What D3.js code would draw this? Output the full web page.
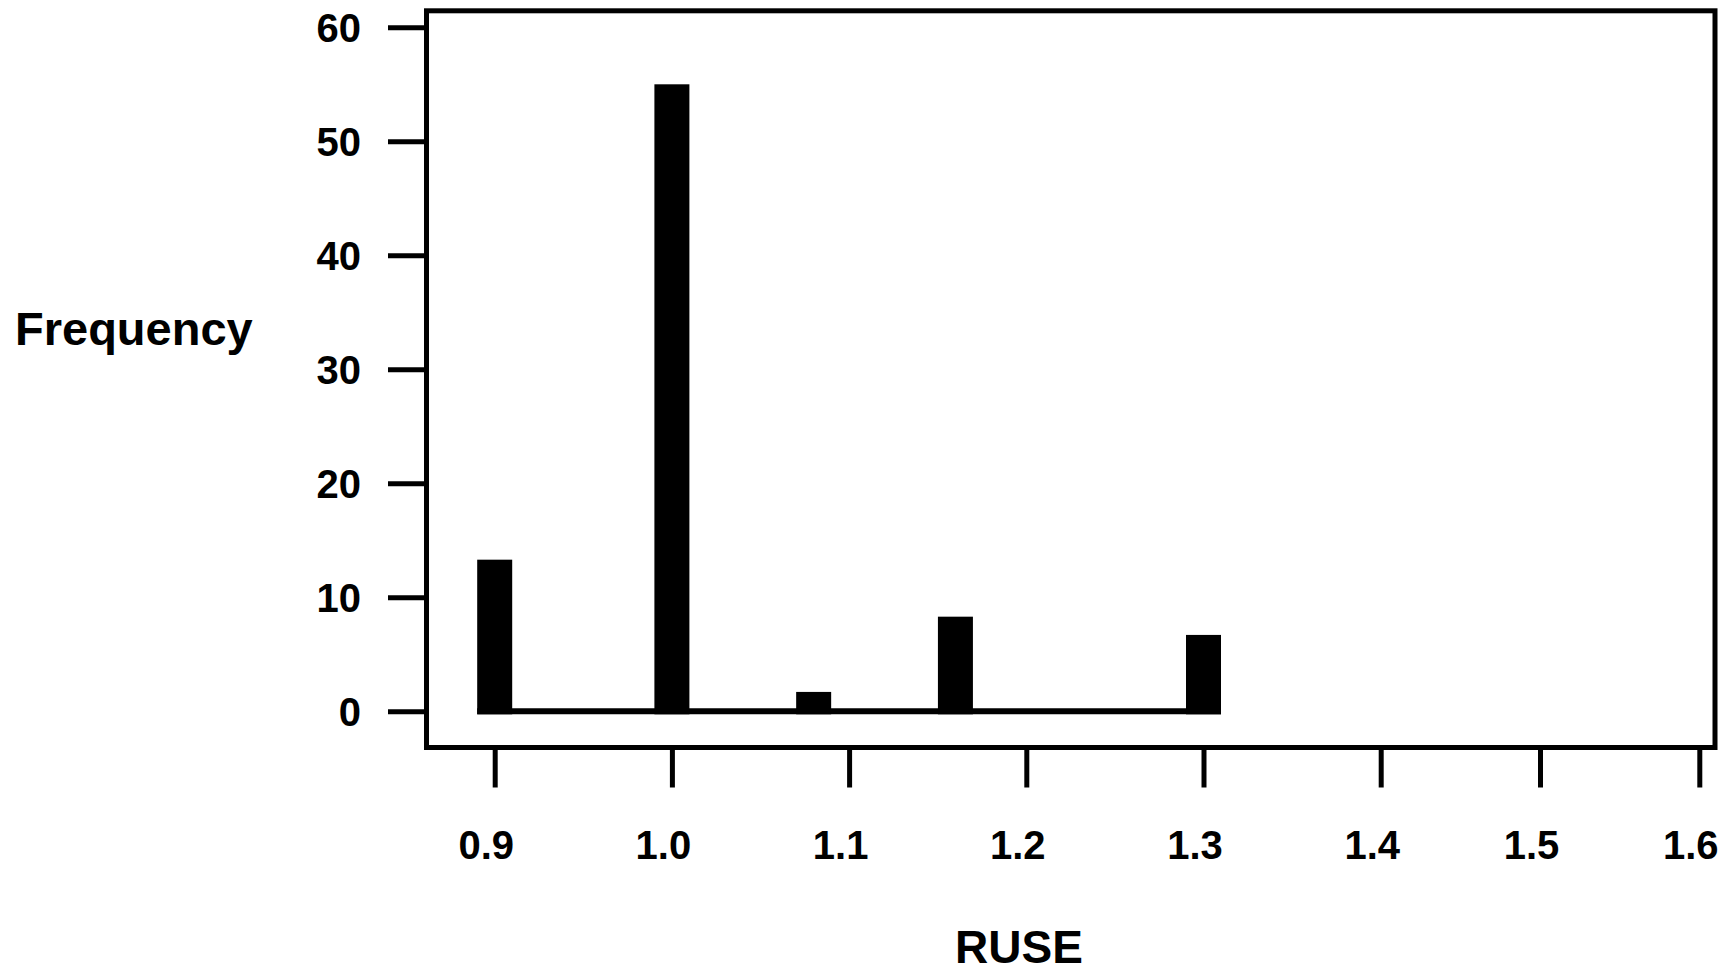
<!DOCTYPE html>
<html>
<head>
<meta charset="utf-8">
<script src="https://cdn.jsdelivr.net/npm/d3@7"></script>
<style>
  html, body { margin: 0; padding: 0; background: #fff; }
  svg text { font-family: "Liberation Sans", Arial, sans-serif; font-weight: bold; fill: #000; }
</style>
</head>
<body>
<svg id="chart" width="1733" height="976"></svg>
<script>
// data
var ruseValues = [0.9, 1.0, 1.08, 1.16, 1.3];
var frequencies = [13.3, 55, 1.7, 8.3, 6.7];
var xTickValues = [0.9, 1.0, 1.1, 1.2, 1.3, 1.4, 1.5, 1.6];
var yTickValues = [0, 10, 20, 30, 40, 50, 60];

var svg = d3.select("#chart");

// frame of the plot area
var frame = { left: 426.5, top: 10.8, right: 1715, bottom: 747.5 };

// the x axis in the original is not evenly spaced past 1.4
var xScale = d3.scaleLinear()
  .domain([0.9, 1.4, 1.6])
  .range([494.7, 1380.7, 1699.3]);

var yScale = d3.scaleLinear()
  .domain([0, 60])
  .range([711.3, 27.3]);

var barWidth = 35;

svg.append("rect")
  .attr("x", frame.left)
  .attr("y", frame.top)
  .attr("width", frame.right - frame.left)
  .attr("height", frame.bottom - frame.top)
  .attr("fill", "none")
  .attr("stroke", "#000")
  .attr("stroke-width", 5);

// y axis
var yAxis = d3.axisLeft(yScale)
  .tickValues(yTickValues)
  .tickSize(38.5)
  .tickPadding(27)
  .tickFormat(d3.format("d"));
var yG = svg.append("g")
  .attr("transform", "translate(" + frame.left + ",0)")
  .call(yAxis);
yG.select(".domain").remove();
yG.selectAll(".tick line").attr("stroke", "#000").attr("stroke-width", 5);
yG.selectAll(".tick text")
  .attr("font-size", 40)
  .attr("dy", "0.36em");

// x axis
var xAxis = d3.axisBottom(xScale)
  .tickValues(xTickValues)
  .tickSize(40)
  .tickPadding(43)
  .tickFormat(d3.format(".1f"));
var xG = svg.append("g")
  .attr("transform", "translate(0," + frame.bottom + ")")
  .call(xAxis);
xG.select(".domain").remove();
xG.selectAll(".tick line").attr("stroke", "#000").attr("stroke-width", 5);
xG.selectAll(".tick text")
  .attr("font-size", 40)
  .attr("dx", -9);
svg.selectAll("g").attr("font-family", null);

// zero line joining the bars
svg.append("line")
  .attr("x1", xScale(d3.min(ruseValues)) - barWidth / 2)
  .attr("x2", xScale(d3.max(ruseValues)) + barWidth / 2)
  .attr("y1", yScale(0))
  .attr("y2", yScale(0))
  .attr("stroke", "#000")
  .attr("stroke-width", 6);

// bars
svg.selectAll(".bar")
  .data(ruseValues)
  .enter()
  .append("rect")
  .attr("class", "bar")
  .attr("x", function (d) { return xScale(d) - barWidth / 2; })
  .attr("y", function (d, i) { return yScale(frequencies[i]); })
  .attr("width", barWidth)
  .attr("height", function (d, i) { return yScale(0) + 3 - yScale(frequencies[i]); })
  .attr("fill", "#000");

// axis titles
svg.append("text")
  .attr("x", 15)
  .attr("y", 345)
  .attr("font-size", 47)
  .text("Frequency");

svg.append("text")
  .attr("x", 1019)
  .attr("y", 963)
  .attr("text-anchor", "middle")
  .attr("font-size", 46)
  .text("RUSE");
</script>
</body>
</html>
